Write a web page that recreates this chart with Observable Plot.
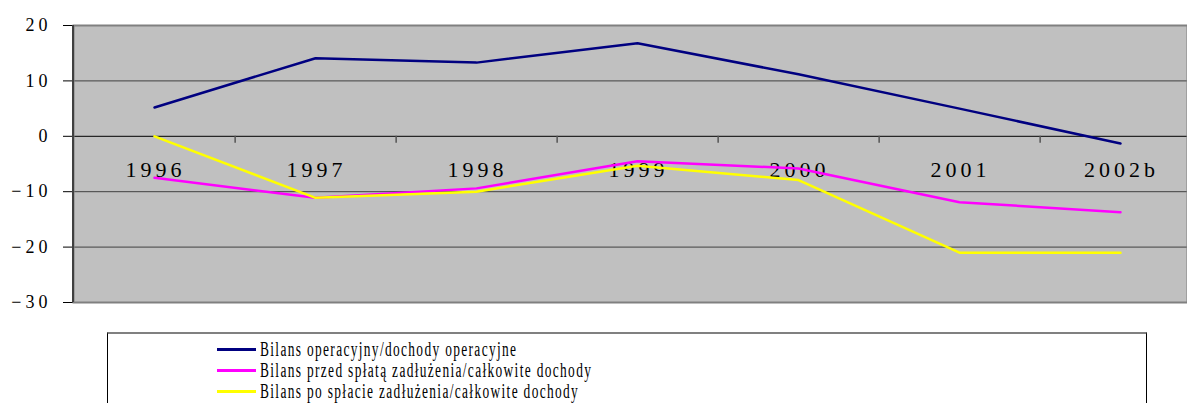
<!DOCTYPE html>
<html><head><meta charset="utf-8">
<script src="https://cdn.jsdelivr.net/npm/d3@7"></script>
<script src="https://cdn.jsdelivr.net/npm/@observablehq/plot@0.6"></script>
<style>
body{margin:0;background:#fff;overflow:hidden;width:1187px;height:403px;position:relative;}
#chart svg{display:block;}
#legend{position:absolute;left:107px;top:332px;width:1040px;height:100px;border:1px solid #000;border-top:2px solid #808080;box-sizing:border-box;font-family:"Liberation Serif",serif;background:#fff;}
.row{position:absolute;left:109px;height:21px;display:flex;align-items:center;}
.sw{width:39px;height:3px;}
.lab{font-size:20px;letter-spacing:2px;transform:scaleX(0.67);transform-origin:left center;white-space:nowrap;margin-left:4px;color:#000;}
</style></head>
<body>
<div id="chart"></div>
<div id="legend"></div>
<script>
const years = ["1996","1997","1998","1999","2000","2001","2002b"];
const seriesNames = [
  "Bilans operacyjny/dochody operacyjne",
  "Bilans przed spłatą zadłużenia/całkowite dochody",
  "Bilans po spłacie zadłużenia/całkowite dochody"
];
const operacyjny = [5.2, 14.1, 13.3, 16.8, 11.2, 5.0, -1.3];
const przedSplata = [-7.5, -11.1, -9.4, -4.5, -5.8, -11.9, -13.7];
const poSplacie = [0, -11.1, -10.0, -5.3, -7.9, -21.0, -21.0];
const colors = ["#000080", "#ff00ff", "#ffff00"];
const yTicks = [-30, -20, -10, 0, 10, 20];
const gridValues = [10, -10, -20];

const seriesValues = [operacyjny, przedSplata, poSplacie];
const data = [];
seriesNames.forEach((s, i) => years.forEach((y, j) => data.push({year: y, value: seriesValues[i][j], series: s})));

const xRange = [72, 1201];
const step = (xRange[1] - xRange[0]) / years.length;

const leftAxis = (index, scales, values, dims) => {
  const l = d3.create("svg:line")
    .attr("x1", dims.marginLeft).attr("x2", dims.marginLeft)
    .attr("y1", scales.y(20)).attr("y2", scales.y(-30))
    .attr("stroke", "#404040").attr("stroke-width", 2);
  return l.node();
};

const chart = Plot.plot({
  width: 1187,
  height: 320,
  marginLeft: 73,
  marginRight: 0,
  marginTop: 25,
  marginBottom: 18,
  style: {fontFamily: "Liberation Serif, serif", fontSize: "18px", background: "white", color: "#000"},
  x: {type: "point", domain: years, range: xRange, padding: 0.5, axis: null},
  y: {domain: [-30, 20], ticks: yTicks, tickSize: 10, tickPadding: 12, label: null},
  color: {domain: seriesNames, range: colors},
  marks: [
    Plot.frame({fill: "#c0c0c0", stroke: null}),
    Plot.ruleY(gridValues, {stroke: "#404040", strokeWidth: 1}),
    Plot.ruleY([0], {stroke: "#000", strokeWidth: 1}),
    Plot.ruleX(years.slice(0, -1), {x: d => d, dx: step / 2, y1: 0, y2: -1.25, stroke: "#555", strokeWidth: 1.5}),
    Plot.text(years, {x: d => d, y: 0, dy: 34, dx: 1, text: d => d, fontSize: 22, fill: "#000", style: "letter-spacing:2px"}),
    Plot.line(data, {x: "year", y: "value", z: "series", stroke: "series", strokeWidth: 2.5}),
    Plot.frame({stroke: "#808080", strokeWidth: 2}),
    leftAxis
  ]
});
chart.querySelectorAll("text").forEach(t => {
  if (!t.getAttribute("style")) t.setAttribute("style", "letter-spacing:4px");
});
document.getElementById("chart").appendChild(chart);

const legend = document.getElementById("legend");
seriesNames.forEach((s, i) => {
  const row = document.createElement("div");
  row.className = "row";
  row.style.top = (5 + i * 21) + "px";
  const sw = document.createElement("div");
  sw.className = "sw";
  sw.style.background = colors[i];
  const lab = document.createElement("div");
  lab.className = "lab";
  lab.textContent = s;
  row.appendChild(sw);
  row.appendChild(lab);
  legend.appendChild(row);
});
</script>
</body></html>
